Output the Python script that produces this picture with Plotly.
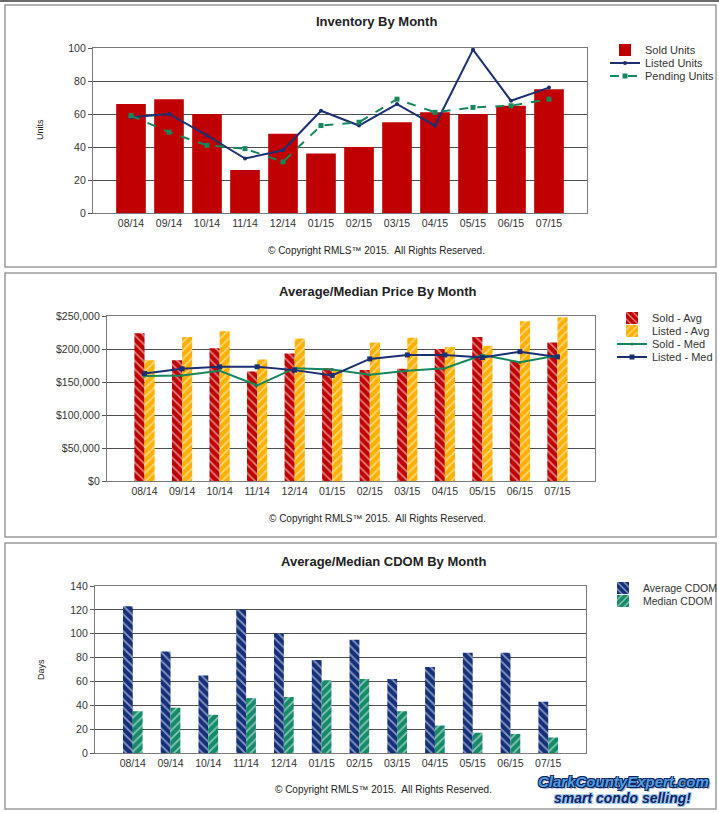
import plotly.graph_objects as go

months = ["08/14", "09/14", "10/14", "11/14", "12/14", "01/15", "02/15", "03/15", "04/15", "05/15", "06/15", "07/15"]

sold_units = [66, 69, 60, 26, 48, 36, 40, 55, 61, 60, 65, 75]
listed_units = [58, 60, 47, 33, 38, 62, 53, 66, 53, 99, 68, 76]
pending_units = [59, 49, 41, 39, 31, 53, 55, 69, 61, 64, 65, 69]

sold_avg = [224000, 183000, 201000, 166000, 193000, 171000, 168000, 170000, 200000, 218000, 182000, 210000]
listed_avg = [183000, 218000, 227000, 184000, 216000, 168000, 210000, 217000, 203000, 205000, 242000, 248000]
sold_med = [159000, 160000, 167000, 145000, 171000, 169000, 161000, 167000, 171000, 191000, 180000, 190000]
listed_med = [163000, 170000, 173000, 173000, 168000, 160000, 185000, 191000, 191000, 187000, 196000, 188000]

avg_cdom = [123, 85, 65, 120, 100, 78, 95, 62, 72, 84, 84, 43]
med_cdom = [35, 38, 32, 46, 47, 61, 62, 35, 23, 17, 16, 13]

W, H = 719, 813
FONT = "Liberation Sans, Arial, sans-serif"
RED = "#c00000"
ORANGE = "#ffb000"
NAVY = "#1b2f73"
GREEN = "#16875c"
NAVY3 = "#14307a"
GREEN3 = "#138a68"


def fx(p):
    return p / W


def fy(p):
    return 1 - p / H


def patt(shape):
    return dict(shape=shape, fgcolor="white", fillmode="overlay", size=6, solidity=0.3)


fig = go.Figure()

# ---- Panel 1: Inventory ----
fig.add_trace(go.Bar(x=months, y=sold_units, name="Sold Units", marker=dict(color=RED, line=dict(width=0)),
                     width=0.78, offset=-0.39, xaxis="x", yaxis="y", legend="legend"))
fig.add_trace(go.Scatter(x=months, y=listed_units, name="Listed Units", mode="lines+markers",
                         line=dict(color=NAVY, width=2), marker=dict(size=4, color=NAVY),
                         xaxis="x", yaxis="y", legend="legend2"))
fig.add_trace(go.Scatter(x=months, y=pending_units, name="Pending Units", mode="lines+markers",
                         line=dict(color=GREEN, width=2, dash="dash"), marker=dict(size=5, color=GREEN, symbol="square"),
                         xaxis="x", yaxis="y", legend="legend3"))

# ---- Panel 2: Prices ----
fig.add_trace(go.Bar(x=months, y=sold_avg, name="Sold - Avg",
                     marker=dict(color=RED, line=dict(width=0), pattern=patt("\\")),
                     width=0.27, offset=-0.27, xaxis="x2", yaxis="y2", legend="legend4"))
fig.add_trace(go.Bar(x=months, y=listed_avg, name="Listed - Avg",
                     marker=dict(color=ORANGE, line=dict(width=0), pattern=patt("/")),
                     width=0.27, offset=0.0, xaxis="x2", yaxis="y2", legend="legend5"))
fig.add_trace(go.Scatter(x=months, y=sold_med, name="Sold - Med", mode="lines+markers",
                         line=dict(color=GREEN, width=2), marker=dict(size=3, color=GREEN),
                         xaxis="x2", yaxis="y2", legend="legend6"))
fig.add_trace(go.Scatter(x=months, y=listed_med, name="Listed - Med", mode="lines+markers",
                         line=dict(color=NAVY, width=2), marker=dict(size=5, color=NAVY, symbol="square"),
                         xaxis="x2", yaxis="y2", legend="legend7"))

# ---- Panel 3: CDOM ----
fig.add_trace(go.Bar(x=months, y=avg_cdom, name="Average CDOM",
                     marker=dict(color=NAVY3, line=dict(width=0), pattern=patt("\\")),
                     width=0.26, offset=-0.26, xaxis="x3", yaxis="y3", legend="legend8"))
fig.add_trace(go.Bar(x=months, y=med_cdom, name="Median CDOM",
                     marker=dict(color=GREEN3, line=dict(width=0), pattern=patt("/")),
                     width=0.26, offset=0.0, xaxis="x3", yaxis="y3", legend="legend9"))

tickfont = dict(family=FONT, size=10.5, color="#333333")


def xax(x0, x1, anchor):
    return dict(domain=[fx(x0), fx(x1)], anchor=anchor, type="category", range=[-1, 12],
                showline=True, linecolor="#7a7a7a", linewidth=1.2, mirror=True, showgrid=False,
                ticks="", tickfont=tickfont, zeroline=False, fixedrange=True, automargin=False)


def yax(y0, y1, anchor, rng, dtick, **kw):
    d = dict(domain=[fy(y1), fy(y0)], anchor=anchor, range=rng, dtick=dtick,
             showline=True, linecolor="#7a7a7a", linewidth=1.2, mirror=True,
             showgrid=True, gridcolor="#4f4f4f", gridwidth=1.3,
             ticks="outside", ticklen=4, tickcolor="#555555", tickfont=tickfont,
             zeroline=False, fixedrange=True, automargin=False)
    d.update(kw)
    return d


def leg(x_text, y, size=11):
    return dict(x=fx(x_text - 40), y=fy(y), xanchor="left", yanchor="middle",
                font=dict(family=FONT, size=size, color="#333333"),
                bgcolor="rgba(0,0,0,0)", tracegroupgap=0, itemwidth=30, borderwidth=0)


annotations = []


def text(x, y, s, size=10, bold=False, **kw):
    f = dict(family=FONT, size=size, color="#222222")
    if bold:
        f["weight"] = "bold"
    a = dict(x=fx(x), y=fy(y), xref="paper", yref="paper", text=s, showarrow=False,
             xanchor="center", yanchor="middle", font=f)
    a.update(kw)
    annotations.append(a)


copy = "© Copyright RMLS™ 2015.\u00a0 All Rights Reserved."

text(376, 22, "Inventory By Month", size=13, bold=True)
text(377, 250, copy, size=10)
text(40, 130, "Units", size=9, textangle=-90)

text(378, 291, "Average/Median Price By Month", size=13, bold=True)
text(378, 518, copy, size=10)

text(383, 561, "Average/Median CDOM By Month", size=13, bold=True)
text(383, 789, copy, size=10)
text(41, 670, "Days", size=9, textangle=-90)

# logo
annotations.append(dict(x=fx(623), y=fy(781), xref="paper", yref="paper", showarrow=False,
                        text="ClarkCountyExpert.com", xanchor="center", yanchor="middle",
                        font=dict(family=FONT, size=15, color="#4d9fe0", weight="bold", style="italic",
                                  shadow="-1px -1px 0 #0d1f5c, 1px -1px 0 #0d1f5c, -1px 1px 0 #0d1f5c, 1px 1px 0 #0d1f5c, 2px 2px 1px #8fa8c8")))
annotations.append(dict(x=fx(622), y=fy(798), xref="paper", yref="paper", showarrow=False,
                        text="smart condo selling!", xanchor="center", yanchor="middle",
                        font=dict(family=FONT, size=14, color="#14215e", weight="bold", style="italic",
                                  shadow="-1px -1px 0 #9cc8ef, 1px -1px 0 #9cc8ef, -1px 1px 0 #9cc8ef, 1px 1px 0 #9cc8ef")))

shapes = []
for (y0, y1) in [(5, 267), (273, 537), (543, 809)]:
    shapes.append(dict(type="rect", xref="paper", yref="paper", x0=fx(5), x1=fx(716), y0=fy(y1), y1=fy(y0),
                       line=dict(color="#9a9a9a", width=1.5), fillcolor="rgba(0,0,0,0)", layer="below"))
shapes.append(dict(type="line", xref="paper", yref="paper", x0=0, x1=1, y0=fy(1), y1=fy(1),
                   line=dict(color="#6a6a6a", width=2)))

fig.update_layout(
    width=W, height=H, margin=dict(l=0, r=0, t=0, b=0, pad=0, autoexpand=False),
    paper_bgcolor="white", plot_bgcolor="white",
    font=dict(family=FONT, color="#333333"),
    xaxis=xax(93, 587, "y"), yaxis=yax(48, 213, "x", [0, 100], 20),
    xaxis2=xax(107, 595, "y2"), yaxis2=yax(316, 481, "x2", [0, 250000], 50000, tickprefix="$", tickformat=",d"),
    xaxis3=xax(95, 586, "y3"), yaxis3=yax(586, 753, "x3", [0, 140], 20),
    legend=leg(645, 50), legend2=leg(645, 63), legend3=leg(645, 76),
    legend4=leg(652, 318), legend5=leg(652, 331), legend6=leg(652, 344), legend7=leg(652, 357),
    legend8=leg(643, 588, 10.5), legend9=leg(643, 601, 10.5),
    showlegend=True,
    annotations=annotations, shapes=shapes,
)

fig.write_html("out.html", config={"displayModeBar": False},
               post_script="document.body.style.margin='0px';document.body.style.padding='0px';document.body.style.overflow='hidden';")
